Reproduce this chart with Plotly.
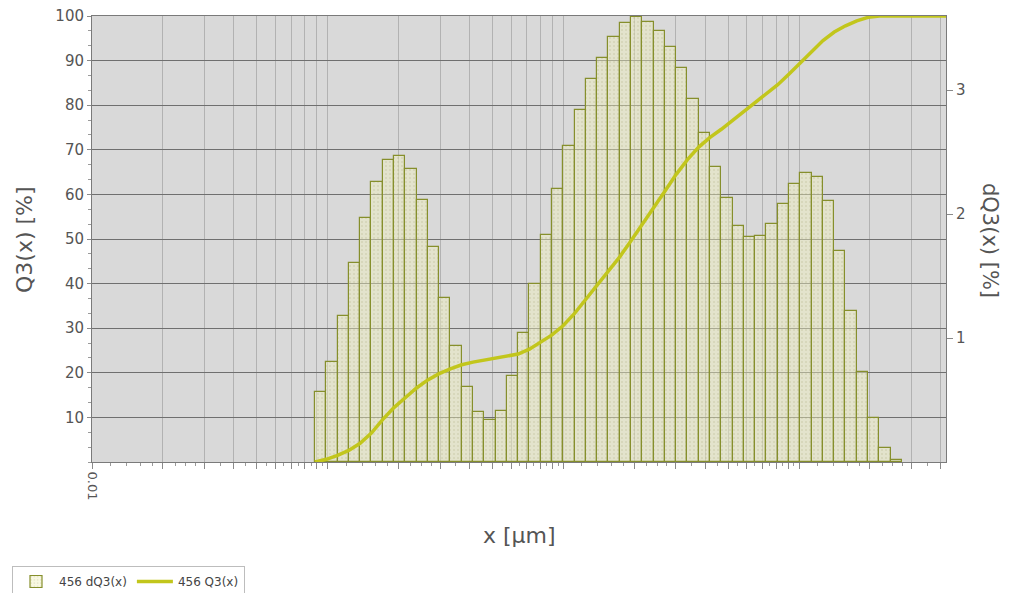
import plotly.graph_objects as go
import math

# ---- data ----
bin_edges_um = [0.0883, 0.0987, 0.1101, 0.1229, 0.1373, 0.1533, 0.1711, 0.1911, 0.2134, 0.2383,
                0.2661, 0.2971, 0.3317, 0.3704, 0.4136, 0.4618, 0.5157, 0.5758, 0.6429, 0.7179,
                0.8017, 0.8952, 0.9995, 1.116, 1.246, 1.392, 1.554, 1.735, 1.938, 2.164,
                2.415, 2.697, 3.012, 3.363, 3.755, 4.193, 4.682, 5.228, 5.838, 6.518,
                7.278, 8.127, 9.075, 10.13, 11.31, 12.64, 14.11, 15.75, 17.59, 19.64,
                21.93, 24.49, 27.35]

dq3 = [0.568, 0.806, 1.180, 1.601, 1.964, 2.259, 2.435, 2.471, 2.367, 2.111,
       1.730, 1.320, 0.932, 0.608, 0.406, 0.335, 0.414, 0.694, 1.040, 1.432,
       1.831, 2.201, 2.550, 2.838, 3.086, 3.262, 3.424, 3.539, 3.590, 3.547,
       3.478, 3.349, 3.180, 2.928, 2.651, 2.381, 2.126, 1.906, 1.813, 1.824,
       1.921, 2.079, 2.241, 2.334, 2.302, 2.101, 1.698, 1.219, 0.723, 0.353,
       0.115, 0.016]

q3_x = bin_edges_um + [60.0]
q3 = [0, 0.6, 1.5, 2.6, 4.2, 6.5, 9.5, 12.2, 14.4, 16.6,
      18.4, 19.8, 20.9, 21.8, 22.4, 22.9, 23.3, 23.7, 24.2, 25.3,
      26.8, 28.5, 30.6, 33.3, 36.5, 39.7, 42.8, 46.0, 49.6, 53.2,
      57.0, 60.7, 64.5, 67.8, 70.6, 72.8, 74.6, 76.6, 78.6, 80.4,
      82.4, 84.6, 87.0, 89.5, 92.2, 94.5, 96.4, 97.8, 98.9, 99.7,
      100, 100, 100, 100]

q3_ticks = [10, 20, 30, 40, 50, 60, 70, 80, 90, 100]
dq3_ticks = [1, 2, 3]
x_min_um, x_max_um = 0.01, 42.05
y_q3_max, y_dq3_max = 100, 3.597

decades = [0.01, 0.1, 1, 10]
major_mult = [1, 2, 3, 4, 5, 6, 7, 8, 9]
minor_mult = [1.2, 1.4, 1.6, 1.8, 2.25, 2.5, 2.75, 3.5, 4.5, 5.5, 6.5, 7.5, 8.5, 9.5]

# ---- derived ----
x_major = [round(m * d, 6) for d in decades for m in major_mult if m * d <= x_max_um]
x_minor = [round(m * d, 6) for d in decades for m in minor_mult if m * d <= x_max_um]
x_text = ["0.01" if v == 0.01 else "" for v in x_major]
lefts = bin_edges_um[:-1]
widths = [b - a for a, b in zip(bin_edges_um[:-1], bin_edges_um[1:])]

FONT = "DejaVu Sans"
TXT = "#555555"
OLIVE = "#c2c61c"

# page body has an 8px default margin; lay out in screen coords minus that offset
OFF = 8
W, H = 1011 - 2 * OFF, 601 - 2 * OFF
P_L, P_R, P_T, P_B = 92 - OFF, 946 - OFF, 16 - OFF, 462 - OFF
ML, MR, MT, MB = P_L, W - P_R, P_T, H - P_B
PW, PH = P_R - P_L, P_B - P_T


def px(xs):
    return (xs - OFF - P_L) / PW


def py(ys):
    return (P_B - (ys - OFF)) / PH


fig = go.Figure()
fig.add_trace(go.Bar(
    x=lefts, y=dq3, width=widths, offset=0,
    name="456 dQ3(x)", xaxis="x", yaxis="y",
    marker=dict(
        color="rgba(238,238,185,0.45)",
        line=dict(color="#868f2c", width=1.2),
        pattern=dict(shape=".", fgcolor="rgba(150,150,90,0.4)",
                     bgcolor="rgba(240,240,188,0.45)", size=4, solidity=0.2),
    ),
))
fig.add_trace(go.Scatter(
    x=q3_x, y=q3, mode="lines", name="456 Q3(x)",
    xaxis="x", yaxis="y2",
    line=dict(color=OLIVE, width=3.5),
))

fig.update_layout(
    width=W, height=H,
    margin=dict(l=ML, r=MR, t=MT, b=MB, autoexpand=False),
    paper_bgcolor="white",
    plot_bgcolor="#d9d9d9",
    bargap=0,
    font=dict(family=FONT, color=TXT),
    xaxis=dict(
        type="log", range=[math.log10(x_min_um), math.log10(x_max_um)],
        automargin=False,
        tickmode="array", tickvals=x_major, ticktext=x_text,
        tickangle=90, tickfont=dict(size=13, color=TXT),
        showgrid=True, gridcolor="#b2b2b2", gridwidth=1,
        ticks="outside", ticklen=6, tickcolor="#8a8a8a",
        showline=True, linecolor="#7a7a7a", linewidth=1, mirror=True,
        minor=dict(tickvals=x_minor, ticks="outside", ticklen=3,
                   tickcolor="#9a9a9a", showgrid=False),
        zeroline=False,
    ),
    yaxis=dict(
        side="right", range=[0, y_dq3_max], automargin=False,
        tickmode="array", tickvals=dq3_ticks,
        tickfont=dict(size=15, color=TXT),
        ticks="outside", ticklen=6, tickcolor="#8a8a8a",
        showgrid=False, zeroline=False,
        showline=True, linecolor="#7a7a7a",
    ),
    yaxis2=dict(
        overlaying="y", side="left", range=[0, y_q3_max], automargin=False,
        tickmode="array", tickvals=q3_ticks, ticklabeloverflow="allow",
        tickfont=dict(size=15, color=TXT),
        ticks="outside", ticklen=4, tickcolor="#8a8a8a",
        showgrid=True, gridcolor="#6f6f6f", gridwidth=1,
        zeroline=False, showline=True, linecolor="#7a7a7a",
        minor=dict(dtick=10 / 3, ticks="outside", ticklen=3, tickcolor="#9a9a9a", showgrid=False),
    ),
    legend=dict(
        orientation="h", xref="container", yref="container",
        x=(12 - OFF) / W, y=1 - (566 - OFF) / H, xanchor="left", yanchor="top",
        bordercolor="#bdbdbd", borderwidth=1, bgcolor="white",
        font=dict(size=12, color="#444444"),
        itemwidth=36, tracegroupgap=0,
    ),
    annotations=[
        dict(text="dQ3(x) [%]", textangle=90, showarrow=False,
             xref="paper", yref="paper", x=px(990), y=py(240),
             xanchor="center", yanchor="middle", font=dict(size=21, color=TXT)),
        dict(text="Q3(x) [%]", textangle=-90, showarrow=False,
             xref="paper", yref="paper", x=px(24), y=py(240),
             xanchor="center", yanchor="middle", font=dict(size=22, color=TXT)),
        dict(text="x [µm]", showarrow=False,
             xref="paper", yref="paper", x=px(519), y=py(535),
             xanchor="center", yanchor="middle", font=dict(size=22, color=TXT)),
    ],
)

fig.write_html("out.html")
